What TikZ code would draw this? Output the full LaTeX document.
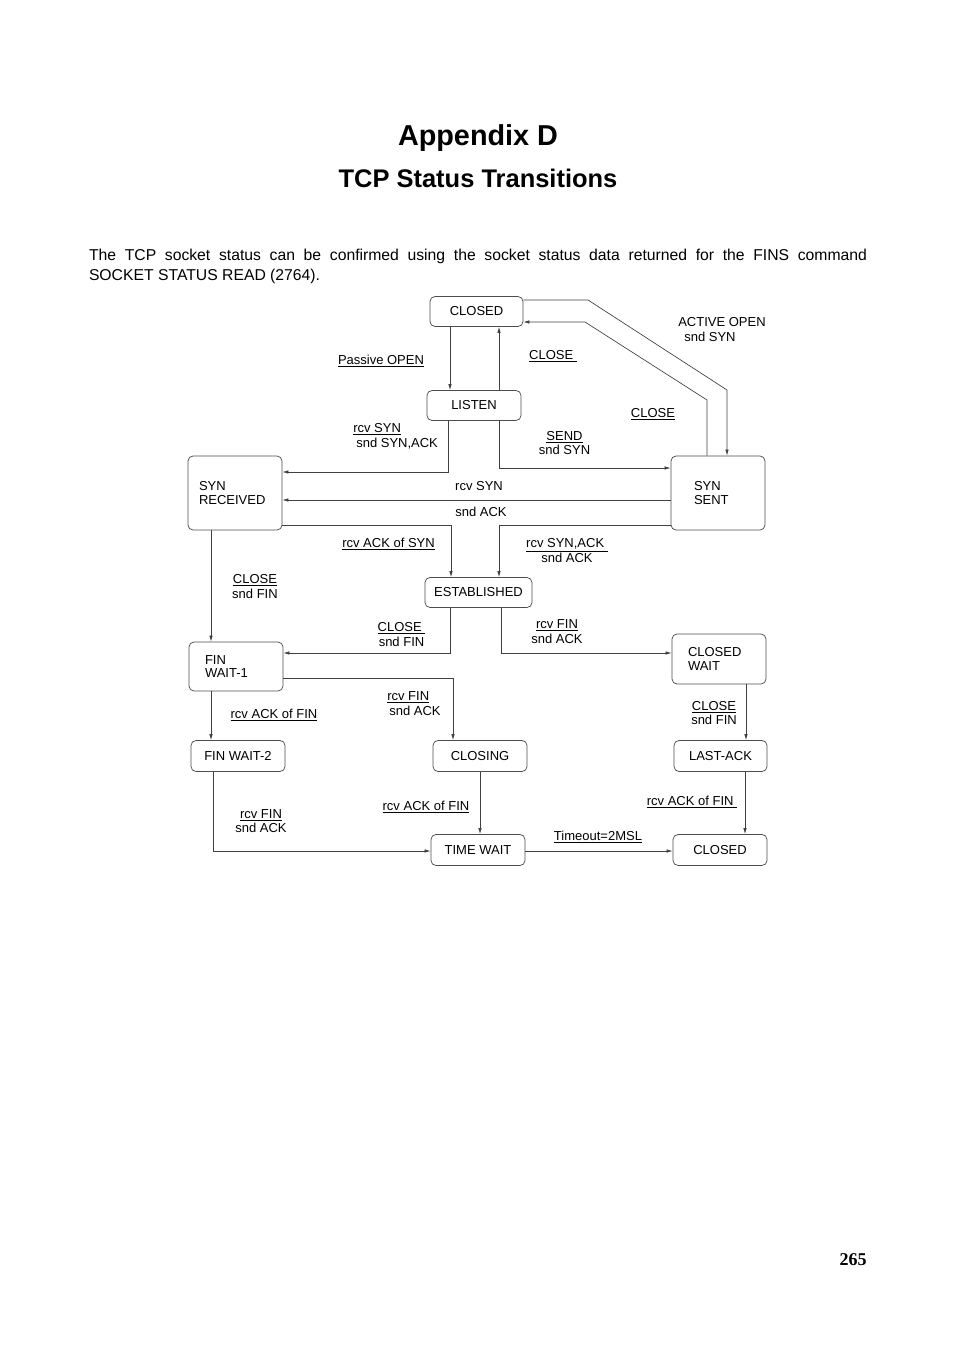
\documentclass[tikz,border=0pt]{standalone}
\usepackage{fontspec}
\setmainfont{Liberation Sans}
\newfontfamily\pnfont{Liberation Serif}
\usetikzlibrary{arrows.meta}
\newcommand\stfont{\fontsize{9.75}{10}\selectfont}
\newcommand\lblfont{\fontsize{9.75}{11}\selectfont}
\tikzset{
  st/.style={draw=black!70, line width=0.55pt, rounded corners=3.75pt, minimum width=70.5pt, minimum height=23.25pt, inner sep=0pt, font=\stfont},
  lst/.style={st, align=left, text width=#1},
  arr/.style={-{Latex[length=4.5pt,width=2.6pt]}, line width=0.5pt, draw=black!75},
  lab/.style={font=\lblfont, inner sep=0pt, align=center},
  labl/.style={font=\lblfont, inner sep=0pt, align=left, anchor=west},
}
\begin{document}
\begin{tikzpicture}[x=0.75pt,y=-0.75pt]
\useasboundingbox (0,0) rectangle (954,1351);
% headings
\node[anchor=base] (title) at (478,145.5) {\fontsize{21.6}{26}\selectfont\bfseries Appendix D};
\node[anchor=base] (subtitle) at (478,187.5) {\fontsize{19.1}{23}\selectfont\bfseries TCP Status Transitions};
\node[text width=583.5pt, align=justify, inner sep=0pt, font=\fontsize{11.8}{15}\selectfont] (para) at (478,266)
  {The TCP socket status can be confirmed using the socket status data returned for the FINS command\linebreak SOCKET STATUS READ (2764).};
\node[anchor=base east, inner sep=0pt] (pagenum) at (867,1265) {\pnfont\fontsize{13.5}{16}\selectfont\bfseries 265};
% states
\node[st, minimum width=69.75pt, minimum height=22.5pt] (closedT) at (476.5,311.5) {CLOSED};
\node[st, minimum height=22.5pt] (listen) at (474,405.5) {LISTEN};
\node[lst=54pt, minimum height=55.5pt] (synrcvd) at (235,493) {SYN\\RECEIVED};
\node[lst=36pt, minimum height=55.5pt] (synsent) at (718,493) {SYN\\SENT};
\node[st, minimum width=80.25pt, minimum height=22.5pt] (estab) at (478.5,592.5) {ESTABLISHED};
\node[lst=46.5pt, minimum height=36.75pt] (finw1) at (236,666.5) {FIN\\WAIT-1};
\node[lst=46.5pt, minimum height=37.5pt] (closewait) at (719,659) {CLOSED\\WAIT};
\node[st] (finw2) at (238,756) {FIN WAIT-2};
\node[st] (closing) at (480,756) {CLOSING};
\node[st, minimum width=69.75pt] (lastack) at (720.5,756) {LAST-ACK};
\node[st] (timewait) at (478,850) {TIME WAIT};
\node[st] (closedB) at (720,850) {CLOSED};
% connectors
\draw[arr] (closedT.south -| 450,0) -- (listen.north -| 450,0);
\draw[arr] (listen.north -| 499,0) -- (closedT.south -| 499,0);
\draw[arr] (closedT.east |- 0,300) -- (588,300) -- (727,390) -- (synsent.north -| 727,0);
\draw[arr] (synsent.north -| 707,0) -- (707,400) -- (585,322) -- (closedT.east |- 0,322);
\draw[arr] (listen.south -| 499,0) |- (synsent.west |- 0,468);
\draw[arr] (listen.south -| 448,0) |- (synrcvd.east |- 0,472);
\draw[arr] (synsent.west |- 0,500) -- (synrcvd.east |- 0,500);
\draw[arr] (synrcvd.east |- 0,525) -| (estab.north -| 451,0);
\draw[arr] (synsent.west |- 0,525) -| (estab.north -| 499,0);
\draw[arr] (synrcvd.south -| 211,0) -- (finw1.north -| 211,0);
\draw[arr] (estab.south -| 450,0) |- (finw1.east |- 0,653);
\draw[arr] (estab.south -| 501,0) |- (closewait.west |- 0,653);
\draw[arr] (finw1.east |- 0,678) -| (closing.north -| 453,0);
\draw[arr] (finw1.south -| 211,0) -- (finw2.north -| 211,0);
\draw[arr] (closewait.south -| 746,0) -- (lastack.north -| 746,0);
\draw[arr] (finw2.south -| 213,0) |- (timewait.west |- 0,851);
\draw[arr] (closing.south -| 480,0) -- (timewait.north -| 480,0);
\draw[arr] (lastack.south -| 745,0) -- (closedB.north -| 745,0);
\draw[arr] (timewait.east |- 0,851) -- (closedB.west |- 0,851);
% labels
\node[lab, anchor=base] (lPassive) at (381,364.5) {\underline{Passive OPEN}};
\node[lab, anchor=base] (lClose1) at (553,359.5) {\underline{CLOSE\ }};
\node[labl] (lActive) at (678,329.5) {ACTIVE OPEN\\\hspace{4.5pt}snd SYN};
\node[lab, anchor=base] (lClose2) at (653,417.5) {\underline{CLOSE}};
\node[labl] (lRcvSyn) at (353,436) {\underline{rcv SYN}\\\hspace{2.25pt}snd SYN,ACK};
\node[lab] (lSend) at (564.5,443) {\underline{SEND}\\snd SYN};
\node[lab, anchor=base] (lRcvSyn2) at (479,490.5) {rcv SYN};
\node[lab, anchor=base] (lSndAck) at (481,516.5) {snd ACK};
\node[lab, anchor=base] (lAckSyn) at (388.5,547.5) {\underline{rcv ACK of SYN}};
\node[lab] (lSynAck) at (567,550.5) {\underline{rcv SYN,ACK\ }\\snd ACK};
\node[lab] (lClose3) at (255,586.5) {\underline{CLOSE}\\snd FIN};
\node[lab] (lClose4) at (401.5,634.5) {\underline{CLOSE\ }\\snd FIN};
\node[lab] (lRcvFin1) at (557,631.5) {\underline{rcv FIN}\\snd ACK};
\node[labl] (lRcvFin2) at (387,703.5) {\underline{rcv FIN}\\\hspace{1.5pt}snd ACK};
\node[lab, anchor=base] (lAckFin1) at (274,718.5) {\underline{rcv ACK of FIN}};
\node[lab] (lClose5) at (714,713) {\underline{CLOSE}\\snd FIN};
\node[lab] (lRcvFin3) at (261,821) {\underline{rcv FIN}\\snd ACK};
\node[lab, anchor=base] (lAckFin2) at (426,810.5) {\underline{rcv ACK of FIN}};
\node[lab, anchor=base] (lAckFin3) at (692,805.5) {\underline{rcv ACK of FIN\ }};
\node[lab, anchor=base] (lTimeout) at (598,840.5) {\underline{Timeout=2MSL}};
\end{tikzpicture}
\end{document}
